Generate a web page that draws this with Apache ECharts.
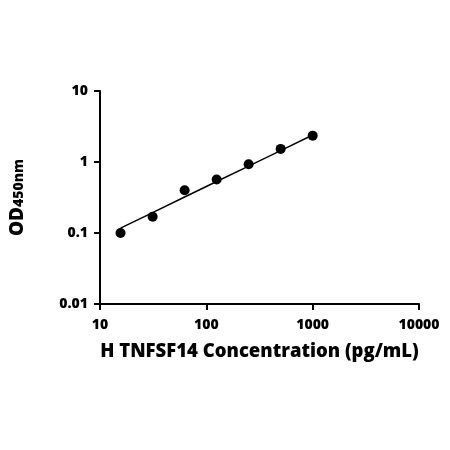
<!DOCTYPE html>
<html>
<head>
<meta charset="utf-8">
<script src="https://cdn.jsdelivr.net/npm/echarts@6/dist/echarts.min.js"></script>
<style>
  html, body { margin: 0; padding: 0; background: #fff; }
  #chart { width: 450px; height: 450px; }
</style>
</head>
<body>
<div id="chart"></div>
<script>
  // standard concentrations (pg/mL) and measured OD450
  var concentrations = [15.6, 31.25, 62.5, 125, 250, 500, 1000];
  var odValues = [0.10, 0.169, 0.40, 0.566, 0.93, 1.53, 2.35];
  // curve at the same concentrations
  var fitValues = [0.117, 0.194, 0.321, 0.531, 0.875, 1.445, 2.40];
  var xTickLabels = ["10", "100", "1000", "10000"];
  var yTickLabels = ["0.01", "0.1", "1", "10"];

  var font = "Open Sans";
  var chart = echarts.init(document.getElementById("chart"));

  var pointData = concentrations.map(function (c, i) { return [c, odValues[i]]; });
  var fitData = concentrations.map(function (c, i) { return [c, fitValues[i]]; });

  function tickText(list, base) {
    return function (v) {
      var idx = Math.round(Math.log10(v) - base);
      return list[idx] != null ? list[idx] : "";
    };
  }

  chart.setOption({
    backgroundColor: "#fff",
    animation: false,
    grid: { left: 100, right: 31, top: 91, bottom: 146 },
    xAxis: {
      type: "log",
      logBase: 10,
      min: 10,
      max: 10000,
      splitNumber: 3,
      name: "H TNFSF14 Concentration (pg/mL)",
      nameLocation: "middle",
      nameGap: 38,
      nameTextStyle: { fontFamily: font, fontWeight: 800, fontSize: 18.5, color: "#000" },
      axisLine: { lineStyle: { color: "#000", width: 2 } },
      axisTick: { length: 6, lineStyle: { color: "#000", width: 2 } },
      minorTick: { show: false },
      splitLine: { show: false },
      axisLabel: {
        color: "#000", fontFamily: font, fontWeight: 800, fontSize: 14, margin: 14,
        formatter: tickText(xTickLabels, 1)
      }
    },
    yAxis: {
      type: "log",
      logBase: 10,
      min: 0.01,
      max: 10,
      splitNumber: 3,
      name: "{a|OD}{b|450nm}",
      nameLocation: "middle",
      nameGap: 73,
      nameRotate: 90,
      nameTextStyle: {
        color: "#000",
        rich: {
          a: { fontFamily: font, fontWeight: 800, fontSize: 19, color: "#000", verticalAlign: "bottom" },
          b: { fontFamily: font, fontWeight: 800, fontSize: 14, color: "#000", verticalAlign: "bottom", padding: [0, 0, 1, 0] }
        }
      },
      axisLine: { lineStyle: { color: "#000", width: 2 } },
      axisTick: { length: 6, lineStyle: { color: "#000", width: 2 } },
      minorTick: { show: false },
      splitLine: { show: false },
      axisLabel: {
        color: "#000", fontFamily: font, fontWeight: 800, fontSize: 14, margin: 12,
        formatter: tickText(yTickLabels, -2)
      }
    },
    series: [
      {
        name: "fit",
        type: "line",
        data: fitData,
        showSymbol: false,
        symbol: "none",
        lineStyle: { color: "#000", width: 1.5 },
        z: 2
      },
      {
        name: "standards",
        type: "scatter",
        data: pointData,
        symbol: "circle",
        symbolSize: 10,
        itemStyle: { color: "#000", opacity: 1 },
        z: 3
      }
    ]
  });
</script>
</body>
</html>
